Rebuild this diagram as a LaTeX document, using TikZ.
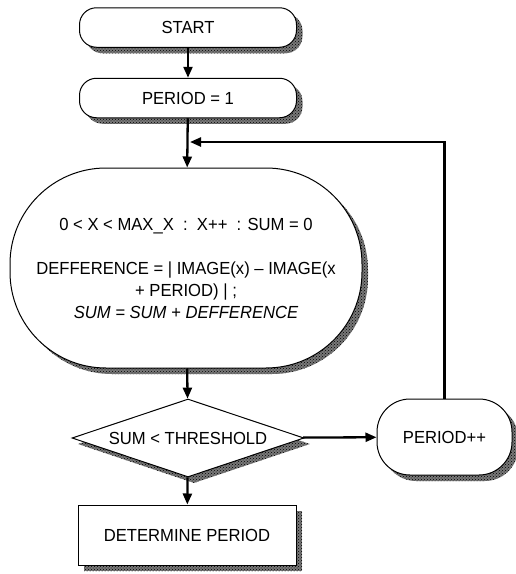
\documentclass[tikz,border=0pt]{standalone}
\usepackage{fontspec}
\setmainfont{Liberation Sans}[FakeStretch=0.95]
\usetikzlibrary{arrows.meta,shapes.geometric,patterns}
\definecolor{shadowgray}{RGB}{120,120,120}

\tikzset{
  box/.style={draw,fill=white,line width=1pt,inner sep=0pt,
      font=\fontsize{17.5}{22}\selectfont},
  ghost/.style={fill=shadowgray,postaction={pattern=crosshatch dots,pattern color=black},
      inner sep=0pt,xshift=6pt,yshift=-6pt},
  term/.style={rounded corners=17pt,minimum width=217pt,minimum height=39.5pt},
  oval/.style={rounded corners=96pt,minimum width=352pt,minimum height=200pt},
  decide/.style={diamond,aspect=3,minimum width=232pt,minimum height=78pt},
  incbox/.style={rounded corners=33pt,minimum width=135pt,minimum height=76pt},
  proc/.style={minimum width=218pt,minimum height=60pt},
  flow/.style={-{Triangle[length=11pt,width=9pt]},line width=2.3pt},
}

\begin{document}
\begin{tikzpicture}[x=1pt,y=1pt]
  \useasboundingbox (0,0) rectangle (516,-574);
  \foreach \s/\p in {term/{188,-27.5},term/{188,-98},oval/{186,-268},
                     decide/{188,-438},incbox/{444.5,-437},proc/{187,-535}}
    \node[ghost,\s] at (\p) {};
  \node[box,term] (start) at (188,-27.5) {START};
  \node[box,term] (init) at (188,-98) {PERIOD = 1};
  \node[box,oval,align=center] (loop) at (186,-268)
    {0 < X < MAX\_X~~:~~X++~~: SUM = 0\\[22pt]
     DEFFERENCE = | IMAGE(x) – IMAGE(x\\
     + PERIOD) | ;\\
     {\itshape SUM = SUM + DEFFERENCE}};
  \node[box,decide] (test) at (188,-438) {SUM < THRESHOLD};
  \node[box,incbox] (inc) at (444.5,-437) {PERIOD++};
  \node[box,proc] (det) at (187,-535) {DETERMINE PERIOD};
  \coordinate (back) at (190,-142);
  \draw[flow] (start) -- (init);
  \draw[flow] (init) -- (loop);
  \draw[flow] (loop) -- (test);
  \draw[flow] (test) -- (det);
  \draw[flow] (test) -- (inc);
  \draw[flow] (inc.north) |- (back);
\end{tikzpicture}
\end{document}
